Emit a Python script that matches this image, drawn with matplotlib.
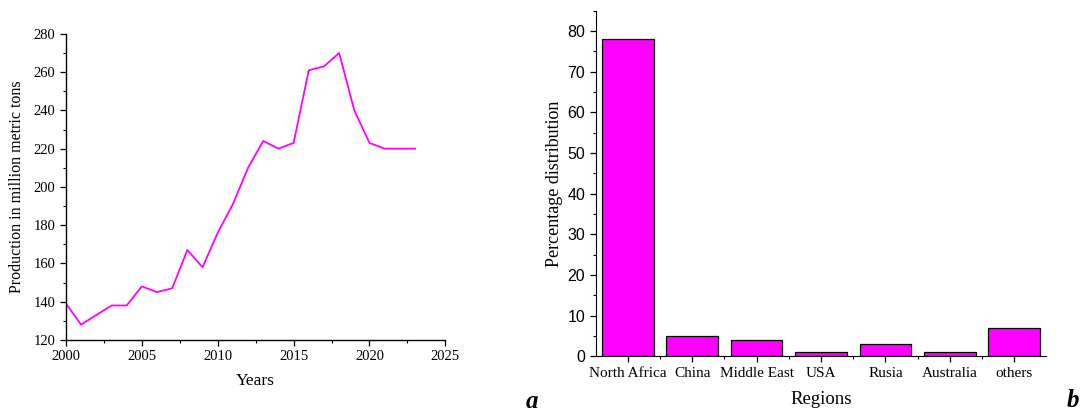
import matplotlib
matplotlib.use('Agg')
import matplotlib.pyplot as plt
from matplotlib.ticker import MultipleLocator

# panel a: yearly production
years = [2000, 2001, 2002, 2003, 2004, 2005, 2006, 2007, 2008, 2009, 2010, 2011,
         2012, 2013, 2014, 2015, 2016, 2017, 2018, 2019, 2020, 2021, 2022, 2023]
production = [139, 128, 133, 138, 138, 148, 145, 147, 167, 158, 176, 191,
              210, 224, 220, 223, 261, 263, 270, 240, 223, 220, 220, 220]

# panel b: share by region
regions = ['North Africa', 'China', 'Middle East', 'USA', 'Rusia', 'Australia', 'others']
share = [78, 5, 4, 1, 3, 1, 7]

serif = 'Liberation Serif'
sans = 'Liberation Sans'

fig = plt.figure(figsize=(10.81, 4.13), dpi=100)

ax1 = fig.add_axes([0.061, 0.177, 0.351, 0.741])
ax1.plot(years, production, color='#ff00ff', lw=1.3)
ax1.set_xlim(2000, 2025)
ax1.set_ylim(120, 280)
ax1.xaxis.set_major_locator(MultipleLocator(5))
ax1.xaxis.set_minor_locator(MultipleLocator(2.5))
ax1.yaxis.set_major_locator(MultipleLocator(20))
ax1.yaxis.set_minor_locator(MultipleLocator(10))
for s in ['top', 'right']:
    ax1.spines[s].set_visible(False)
for s in ['left', 'bottom']:
    ax1.spines[s].set_linewidth(1.0)
ax1.tick_params(which='major', length=4, width=0.9, direction='out')
ax1.tick_params(which='minor', length=2.5, width=0.8, direction='out')
for lab in ax1.get_xticklabels() + ax1.get_yticklabels():
    lab.set_fontfamily(serif)
    lab.set_fontsize(10.5)
ax1.set_xlabel('Years', family=serif, fontsize=12.5, labelpad=7)
ax1.set_ylabel('Production in million metric tons', family=serif, fontsize=11.5, labelpad=6)

ax2 = fig.add_axes([0.551, 0.137, 0.417, 0.837])
x = list(range(len(regions)))
ax2.bar(x, share, width=0.8, color='#ff00ff', edgecolor='black', linewidth=0.9)
ax2.set_xlim(-0.5, len(regions) - 0.5)
ax2.set_ylim(0, 85)
ax2.set_xticks(x)
ax2.set_xticklabels(regions, family=serif, fontsize=11)
ax2.set_xticks([i + 0.5 for i in x[:-1]], minor=True)
ax2.yaxis.set_major_locator(MultipleLocator(10))
ax2.yaxis.set_minor_locator(MultipleLocator(5))
for s in ['top', 'right']:
    ax2.spines[s].set_visible(False)
ax2.tick_params(which='major', length=4, width=0.9, direction='out')
ax2.tick_params(which='minor', length=2.5, width=0.8, direction='out')
for lab in ax2.get_yticklabels():
    lab.set_fontfamily(sans)
    lab.set_fontsize(11.5)
ax2.set_xlabel('Regions', family=serif, fontsize=13.5, labelpad=8)
ax2.set_ylabel('Percentage distribution', family=serif, fontsize=13, labelpad=3)

fig.text(0.486, 0.012, 'a', family=serif, fontsize=18, fontweight='bold', fontstyle='italic')
fig.text(0.987, 0.014, 'b', family=serif, fontsize=18, fontweight='bold', fontstyle='italic')

fig.savefig('out.png', dpi=100)
